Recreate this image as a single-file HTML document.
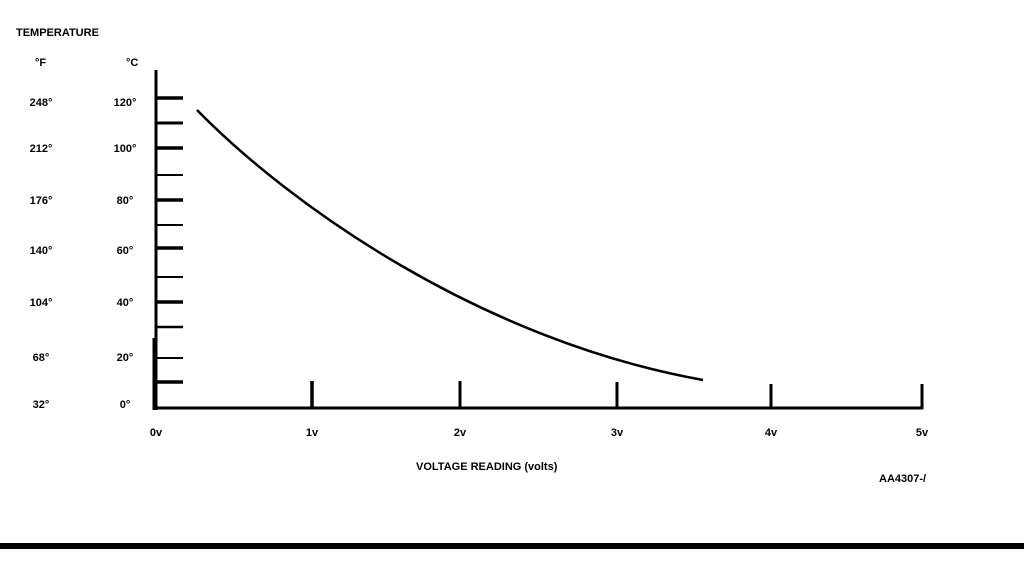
<!DOCTYPE html>
<html><head><meta charset="utf-8"><style>
html,body{margin:0;padding:0;background:#fff;}
svg{display:block;}
text{font-family:"Liberation Sans",sans-serif;font-weight:bold;font-size:11px;fill:#000;}
</style></head><body>
<svg width="1024" height="576" viewBox="0 0 1024 576" xmlns="http://www.w3.org/2000/svg">
<text x="16" y="36" font-size="11">TEMPERATURE</text>
<text x="35" y="66">°F</text>
<text x="126" y="66">°C</text>
<g text-anchor="middle">
<text x="41" y="106">248°</text><text x="125" y="106">120°</text>
<text x="41" y="152">212°</text><text x="125" y="152">100°</text>
<text x="41" y="204">176°</text><text x="125" y="204">80°</text>
<text x="41" y="254">140°</text><text x="125" y="254">60°</text>
<text x="41" y="306">104°</text><text x="125" y="306">40°</text>
<text x="41" y="361">68°</text><text x="125" y="361">20°</text>
<text x="41" y="408">32°</text><text x="125" y="408">0°</text>
</g>
<line x1="156" y1="70" x2="156" y2="410" stroke="#000" stroke-width="3"/>
<line x1="155" y1="408" x2="923" y2="408" stroke="#000" stroke-width="3"/>
<g stroke="#000">
<line x1="156" y1="98" x2="183" y2="98" stroke-width="3.5"/>
<line x1="156" y1="123" x2="183" y2="123" stroke-width="3"/>
<line x1="156" y1="148" x2="183" y2="148" stroke-width="3.5"/>
<line x1="156" y1="175" x2="183" y2="175" stroke-width="2"/>
<line x1="156" y1="200" x2="183" y2="200" stroke-width="3.5"/>
<line x1="156" y1="225" x2="183" y2="225" stroke-width="2"/>
<line x1="156" y1="248" x2="183" y2="248" stroke-width="3.5"/>
<line x1="156" y1="277" x2="183" y2="277" stroke-width="2"/>
<line x1="156" y1="302" x2="183" y2="302" stroke-width="3.5"/>
<line x1="156" y1="327" x2="183" y2="327" stroke-width="2.5"/>
<line x1="156" y1="358" x2="183" y2="358" stroke-width="2"/>
<line x1="156" y1="382" x2="183" y2="382" stroke-width="3.5"/>
<line x1="154" y1="338" x2="154" y2="410" stroke-width="3"/>
<line x1="312" y1="381" x2="312" y2="408" stroke-width="3.5"/>
<line x1="460" y1="381" x2="460" y2="408" stroke-width="3"/>
<line x1="617" y1="382" x2="617" y2="408" stroke-width="3"/>
<line x1="771" y1="384" x2="771" y2="408" stroke-width="3"/>
<line x1="922" y1="384" x2="922" y2="409" stroke-width="3"/>
</g>
<path d="M197,110 C290,205 480,340 703,380" fill="none" stroke="#000" stroke-width="2.5"/>
<g text-anchor="middle">
<text x="156" y="436">0v</text><text x="312" y="436">1v</text><text x="460" y="436">2v</text>
<text x="617" y="436">3v</text><text x="771" y="436">4v</text><text x="922" y="436">5v</text>
</g>
<text x="416" y="470" font-size="11">VOLTAGE READING (volts)</text>
<text x="879" y="482" font-size="10">AA4307-/</text>
<rect x="0" y="543" width="1024" height="6" fill="#000"/>
</svg>
</body></html>
